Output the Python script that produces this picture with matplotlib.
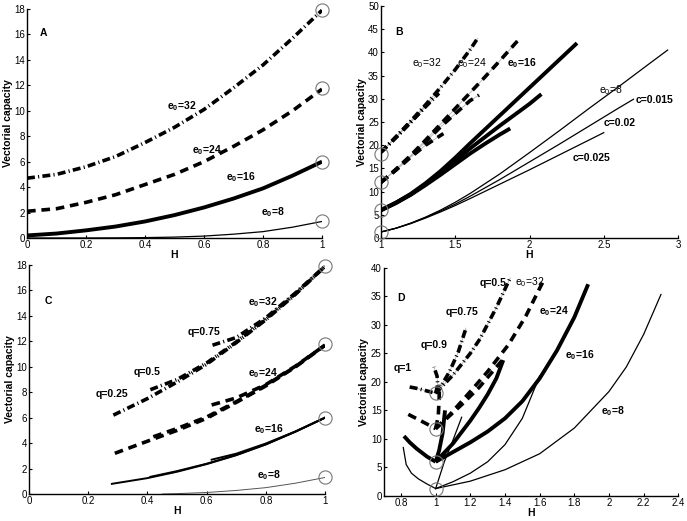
import matplotlib
matplotlib.use('Agg')
import matplotlib.pyplot as plt
from matplotlib.ticker import FuncFormatter

plt.rcParams['font.family'] = ['Liberation Sans', 'DejaVu Sans']
plt.rcParams['mathtext.fontset'] = 'custom'
plt.rcParams['mathtext.rm'] = 'Liberation Sans'
plt.rcParams['mathtext.bf'] = 'Liberation Sans:bold'

# ---------------- Panel A ----------------
a_h = [0, 0.1, 0.2, 0.3, 0.4, 0.5, 0.6, 0.7, 0.8, 0.9, 1.0]
a_e32 = [4.7, 5.0, 5.6, 6.4, 7.5, 8.7, 10.1, 11.8, 13.6, 15.7, 17.9]
a_e24 = [2.1, 2.3, 2.8, 3.4, 4.2, 5.0, 6.0, 7.2, 8.5, 10.0, 11.7]
a_e16 = [0.2, 0.35, 0.6, 0.9, 1.3, 1.8, 2.4, 3.1, 3.9, 4.9, 6.0]
a_e8 = [0, 0, 0, 0.01, 0.03, 0.07, 0.15, 0.3, 0.5, 0.85, 1.3]

# puntos finales (circulos) en H=1
circ_h = [1, 1, 1, 1]
circ_v = [17.9, 11.8, 6.0, 1.3]

# ---------------- Panel B ----------------
b32_015_h = [1, 1.1, 1.2, 1.3, 1.4, 1.5, 1.6, 1.65]
b32_015_v = [18.5, 21.8, 25.2, 28.7, 32.4, 36.3, 40.6, 43.0]
b32_02_h = [1, 1.1, 1.2, 1.3, 1.39]
b32_02_v = [18.5, 21.7, 25.0, 28.3, 31.2]
b32_025_h = [1, 1.1, 1.2, 1.33]
b32_025_v = [18.5, 21.6, 24.9, 29.4]

b24_015_h = [1, 1.1, 1.2, 1.3, 1.4, 1.5, 1.6, 1.7, 1.8, 1.92]
b24_015_v = [12, 14.8, 17.8, 21.1, 24.5, 27.9, 31.3, 34.7, 38.2, 42.5]
b24_02_h = [1, 1.1, 1.2, 1.3, 1.4, 1.5, 1.6, 1.66]
b24_02_v = [12, 14.7, 17.6, 20.7, 23.9, 26.8, 29.6, 30.8]
b24_025_h = [1, 1.1, 1.2, 1.3, 1.42]
b24_025_v = [12, 14.6, 17.4, 20.0, 22.5]

b16_015_h = [1, 1.1, 1.2, 1.3, 1.4, 1.5, 1.6, 1.8, 2.0, 2.2, 2.32]
b16_015_v = [6, 7.6, 9.5, 11.8, 14.4, 17.3, 20.4, 26.4, 32.4, 38.4, 42.0]
b16_02_h = [1, 1.1, 1.2, 1.3, 1.4, 1.5, 1.6, 1.8, 2.0, 2.08]
b16_02_v = [6, 7.6, 9.4, 11.6, 14.0, 16.6, 19.3, 24.2, 28.9, 31.0]
b16_025_h = [1, 1.1, 1.2, 1.3, 1.4, 1.5, 1.6, 1.7, 1.8, 1.87]
b16_025_v = [6, 7.5, 9.3, 11.4, 13.6, 15.9, 18.2, 20.3, 22.3, 23.6]

b8_015_h = [1, 1.1, 1.2, 1.3, 1.4, 1.5, 1.6, 1.8, 2.0, 2.2, 2.4, 2.6, 2.8, 2.93]
b8_015_v = [1.3, 2.1, 3.2, 4.5, 6.0, 7.7, 9.6, 13.8, 18.4, 23.1, 27.9, 32.6, 37.4, 40.5]
b8_02_h = [1, 1.1, 1.2, 1.3, 1.4, 1.5, 1.6, 1.8, 2.0, 2.2, 2.4, 2.6, 2.7]
b8_02_v = [1.3, 2.1, 3.15, 4.4, 5.8, 7.3, 9.0, 12.6, 16.4, 20.2, 24.1, 28.0, 29.9]
b8_025_h = [1, 1.1, 1.2, 1.3, 1.4, 1.5, 1.6, 1.8, 2.0, 2.2, 2.4, 2.5]
b8_025_v = [1.3, 2.1, 3.1, 4.3, 5.6, 7.0, 8.5, 11.6, 14.7, 17.9, 21.1, 22.7]

b_circ_v = [18.2, 12.0, 6.0, 1.3]

# ---------------- Panel C ----------------
c32_q025_h = [0.285, 0.4, 0.5, 0.6, 0.7, 0.8, 0.9, 1.0]
c32_q025_v = [6.2, 7.5, 8.8, 10.2, 11.9, 13.7, 15.7, 17.9]
c32_q05_h = [0.41, 0.5, 0.6, 0.7, 0.8, 0.9, 1.0]
c32_q05_v = [8.2, 9.0, 10.3, 11.95, 13.75, 15.75, 17.9]
c32_q075_h = [0.62, 0.7, 0.8, 0.9, 1.0]
c32_q075_v = [11.7, 12.3, 13.85, 15.8, 17.9]

c24_q025_h = [0.29, 0.4, 0.5, 0.6, 0.7, 0.8, 0.9, 1.0]
c24_q025_v = [3.2, 4.15, 5.0, 5.95, 7.2, 8.5, 10.0, 11.7]
c24_q05_h = [0.42, 0.5, 0.6, 0.7, 0.8, 0.9, 1.0]
c24_q05_v = [4.5, 5.15, 6.05, 7.25, 8.55, 10.0, 11.7]
c24_q075_h = [0.617, 0.7, 0.8, 0.9, 1.0]
c24_q075_v = [7.0, 7.55, 8.6, 10.05, 11.7]

c16_q025_h = [0.28, 0.4, 0.5, 0.6, 0.7, 0.8, 0.9, 1.0]
c16_q025_v = [0.8, 1.25, 1.75, 2.35, 3.05, 3.9, 4.9, 6.0]
c16_q05_h = [0.41, 0.5, 0.6, 0.7, 0.8, 0.9, 1.0]
c16_q05_v = [1.35, 1.8, 2.38, 3.07, 3.9, 4.9, 6.0]
c16_q075_h = [0.617, 0.7, 0.8, 0.9, 1.0]
c16_q075_v = [2.7, 3.17, 3.97, 4.92, 6.0]

c8_h = [0.45, 0.5, 0.6, 0.7, 0.8, 0.9, 1.0]
c8_v = [0, 0.03, 0.12, 0.28, 0.5, 0.85, 1.3]

# ---------------- Panel D ----------------
d8_q1_h = [0.813, 0.83, 0.86, 0.9, 0.95, 1.0]
d8_q1_v = [8.5, 5.5, 4.0, 3.0, 2.1, 1.3]
d8_q09_h = [1, 1.05, 1.1, 1.15]
d8_q09_v = [1.3, 6.0, 9.8, 13.8]
d8_q075_h = [1, 1.1, 1.2, 1.3, 1.4, 1.5, 1.6]
d8_q075_v = [1.3, 2.5, 4.0, 6.0, 9.0, 13.6, 21.0]
d8_q05_h = [1, 1.2, 1.4, 1.6, 1.8, 2.0, 2.1, 2.2, 2.3]
d8_q05_v = [1.3, 2.6, 4.6, 7.4, 11.9, 18.3, 22.6, 28.3, 35.3]

d16_q1_h = [0.817, 0.85, 0.89, 0.95, 1.0]
d16_q1_v = [10.5, 9.4, 8.3, 6.9, 6.0]
d16_q09_h = [1, 1.02, 1.04, 1.054]
d16_q09_v = [6, 8, 11, 15]
d16_q075_h = [1, 1.1, 1.2, 1.25, 1.3, 1.35, 1.39]
d16_q075_v = [6, 9.2, 13.2, 15.4, 17.8, 20.6, 23.8]
d16_q05_h = [1, 1.1, 1.2, 1.3, 1.4, 1.5, 1.6, 1.7, 1.8, 1.88]
d16_q05_v = [6, 7.7, 9.4, 11.3, 13.6, 16.6, 20.6, 25.5, 31.3, 37.1]

d24_q1_h = [0.842, 0.9, 0.95, 1.0]
d24_q1_v = [14.3, 13.4, 12.6, 11.8]
d24_q09_h = [1, 1.015, 1.02, 1.022]
d24_q09_v = [11.8, 14, 17, 19.5]
d24_q075_h = [1, 1.05, 1.15, 1.25, 1.39]
d24_q075_v = [11.8, 13.2, 16, 19, 24]
d24_q05_h = [1, 1.08, 1.2, 1.3, 1.42, 1.52, 1.62]
d24_q05_v = [11.8, 14.2, 18.3, 21.8, 26.5, 31.5, 37.6]

d32_q1_h = [0.85, 0.9, 0.95, 1.0]
d32_q1_v = [19.1, 18.8, 18.4, 18.0]
d32_q09_h = [1, 1.012, 1.008, 0.99]
d32_q09_v = [18, 19.5, 21, 22.6]
d32_q075_h = [1, 1.03, 1.08, 1.13, 1.175]
d32_q075_v = [18, 19.2, 21.8, 25.2, 29.4]
d32_q05_h = [1, 1.1, 1.2, 1.255, 1.35, 1.43]
d32_q05_v = [18, 21.2, 25, 27.5, 33, 38.2]

d_circ_v = [18.0, 11.8, 6.0, 1.3]

# ---------------- estilos ----------------
DASH = dict(color='black', lw=2.6, dashes=(2.4, 1.6), dash_capstyle='butt')
DASHDOT = dict(color='black', lw=2.6, dashes=(2.2, 0.9, 0.3, 0.9), dash_capstyle='butt')
THICK = dict(color='black', lw=2.8, solid_capstyle='butt')
THIN = dict(color='black', lw=0.9)
GRIS = dict(color='#b0b0b0', lw=0.6, zorder=1)
CIRC = dict(marker='o', ms=9.5, mfc='none', mec='#777777', mew=0.8, ls='none', clip_on=False, zorder=5)


def fmt(v, pos):
    return '%g' % v


def estilo(ax, xlim, ylim, xt, yt):
    ax.set_xlim(*xlim)
    ax.set_ylim(*ylim)
    ax.set_xticks(xt)
    ax.set_yticks(yt)
    ax.xaxis.set_major_formatter(FuncFormatter(fmt))
    ax.yaxis.set_major_formatter(FuncFormatter(fmt))
    ax.spines['top'].set_visible(False)
    ax.spines['right'].set_visible(False)
    ax.spines['left'].set_linewidth(1.0)
    ax.spines['bottom'].set_linewidth(1.0)
    ax.tick_params(direction='in', length=2.5, width=0.8, labelsize=7, pad=1.5)
    ax.set_xlabel('H', fontsize=7.5, fontweight='bold', labelpad=0)
    ax.set_ylabel('Vectorial capacity', fontsize=7.5, fontweight='bold', labelpad=1)


def etiqueta(ax, x, y, s, bold=True):
    ax.text(x, y, s, fontsize=7.5, fontweight='bold' if bold else 'normal', ha='center', va='center')


def e0(n, bold=True):
    if bold:
        return r'e$_{\mathbf{0}}$=' + str(n)
    return r'e$_{0}$=' + str(n)


fig = plt.figure(figsize=(6.87, 5.21), dpi=100)

# Panel A
ax = fig.add_axes([0.0393, 0.5432, 0.4294, 0.4395])
ax.plot(a_h, a_e32, **DASHDOT)
ax.plot(a_h, a_e24, **DASH)
ax.plot(a_h, a_e16, **THICK)
ax.plot(a_h, a_e8, **THIN)
ax.plot(circ_h, circ_v, **CIRC)
estilo(ax, (0, 1), (0, 18), [0, 0.2, 0.4, 0.6, 0.8, 1], range(0, 19, 2))
etiqueta(ax, 0.055, 16.1, 'A')
etiqueta(ax, 0.525, 10.4, e0(32))
etiqueta(ax, 0.61, 6.9, e0(24))
etiqueta(ax, 0.725, 4.75, e0(16))
etiqueta(ax, 0.835, 2.05, e0(8))

# Panel B
ax = fig.add_axes([0.5546, 0.5432, 0.4323, 0.4453])
for h, v in [(b32_015_h, b32_015_v), (b32_02_h, b32_02_v), (b32_025_h, b32_025_v)]:
    ax.plot(h, v, **GRIS)
    ax.plot(h, v, **DASHDOT)
for h, v in [(b24_015_h, b24_015_v), (b24_02_h, b24_02_v), (b24_025_h, b24_025_v)]:
    ax.plot(h, v, **GRIS)
    ax.plot(h, v, **DASH)
for h, v in [(b16_015_h, b16_015_v), (b16_02_h, b16_02_v), (b16_025_h, b16_025_v)]:
    ax.plot(h, v, **THICK)
for h, v in [(b8_015_h, b8_015_v), (b8_02_h, b8_02_v), (b8_025_h, b8_025_v)]:
    ax.plot(h, v, **THIN)
ax.plot(circ_h, b_circ_v, **CIRC)
estilo(ax, (1, 3), (0, 50), [1, 1.5, 2, 2.5, 3], range(0, 51, 5))
etiqueta(ax, 1.12, 44.4, 'B')
etiqueta(ax, 1.31, 37.7, e0(32, False), bold=False)
etiqueta(ax, 1.61, 37.7, e0(24, False), bold=False)
etiqueta(ax, 1.95, 37.7, e0(16))
etiqueta(ax, 2.55, 31.9, e0(8, False), bold=False)
etiqueta(ax, 2.84, 29.7, 'c=0.015')
etiqueta(ax, 2.61, 24.8, 'c=0.02')
etiqueta(ax, 2.42, 17.2, 'c=0.025')

# Panel C
ax = fig.add_axes([0.0422, 0.0518, 0.4309, 0.4395])
for h, v in [(c32_q025_h, c32_q025_v), (c32_q05_h, c32_q05_v), (c32_q075_h, c32_q075_v)]:
    ax.plot(h, v, **DASHDOT)
for h, v in [(c24_q025_h, c24_q025_v), (c24_q05_h, c24_q05_v), (c24_q075_h, c24_q075_v)]:
    ax.plot(h, v, **DASH)
for h, v in [(c16_q025_h, c16_q025_v), (c16_q05_h, c16_q05_v), (c16_q075_h, c16_q075_v)]:
    ax.plot(h, v, color='black', lw=1.4)
ax.plot(c8_h, c8_v, color='#555555', lw=0.7)
ax.plot(circ_h, circ_v, **CIRC)
estilo(ax, (0, 1), (0, 18), [0, 0.2, 0.4, 0.6, 0.8, 1], range(0, 19, 2))
etiqueta(ax, 0.065, 15.2, 'C')
etiqueta(ax, 0.79, 15.1, e0(32))
etiqueta(ax, 0.59, 12.7, 'q=0.75')
etiqueta(ax, 0.40, 9.6, 'q=0.5')
etiqueta(ax, 0.28, 7.9, 'q=0.25')
etiqueta(ax, 0.79, 9.5, e0(24))
etiqueta(ax, 0.81, 5.1, e0(16))
etiqueta(ax, 0.81, 1.5, e0(8))

# Panel D
ax = fig.add_axes([0.5585, 0.048, 0.4288, 0.4382])
for h, v in [(d32_q1_h, d32_q1_v), (d32_q09_h, d32_q09_v), (d32_q075_h, d32_q075_v), (d32_q05_h, d32_q05_v)]:
    ax.plot(h, v, **GRIS)
    ax.plot(h, v, **DASHDOT)
for h, v in [(d24_q1_h, d24_q1_v), (d24_q09_h, d24_q09_v), (d24_q075_h, d24_q075_v), (d24_q05_h, d24_q05_v)]:
    ax.plot(h, v, **DASH)
for h, v in [(d16_q1_h, d16_q1_v), (d16_q09_h, d16_q09_v), (d16_q075_h, d16_q075_v), (d16_q05_h, d16_q05_v)]:
    ax.plot(h, v, **THICK)
for h, v in [(d8_q1_h, d8_q1_v), (d8_q09_h, d8_q09_v), (d8_q075_h, d8_q075_v), (d8_q05_h, d8_q05_v)]:
    ax.plot(h, v, **THIN)
ax.plot(circ_h, d_circ_v, **CIRC)
estilo(ax, (0.7, 2.4), (0, 40), [0.8, 1, 1.2, 1.4, 1.6, 1.8, 2, 2.2, 2.4], range(0, 41, 5))
etiqueta(ax, 0.80, 34.7, 'D')
etiqueta(ax, 1.33, 37.4, 'q=0.5')
etiqueta(ax, 1.54, 37.4, e0(32, False), bold=False)
etiqueta(ax, 1.68, 32.4, e0(24))
etiqueta(ax, 1.15, 32.2, 'q=0.75')
etiqueta(ax, 0.99, 26.4, 'q=0.9')
etiqueta(ax, 0.81, 22.4, 'q=1')
etiqueta(ax, 1.83, 24.7, e0(16))
etiqueta(ax, 2.02, 14.8, e0(8))

fig.savefig('out.png', dpi=100)
